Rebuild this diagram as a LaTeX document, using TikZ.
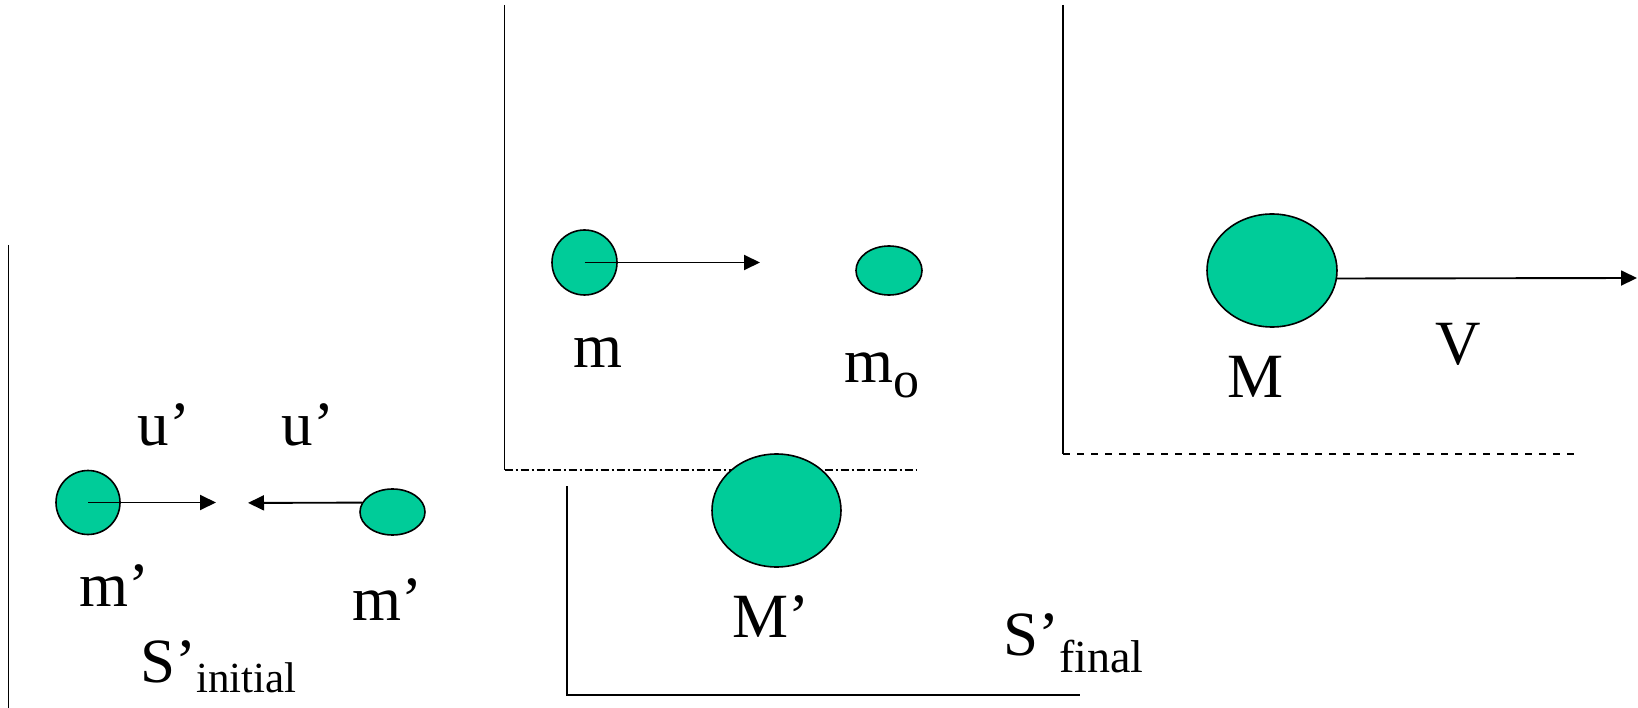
\documentclass[tikz,border=0pt]{standalone}
\usepackage{fontspec}
\setmainfont{Liberation Serif}
\usetikzlibrary{shapes.geometric,arrows.meta}
\definecolor{ball}{RGB}{0,204,153}
\tikzset{
  ballnode/.style={ellipse,draw=black,fill=ball,line width=1.6pt,inner sep=0pt},
  frame/.style={line width=1.8pt,draw=black},
  arr/.style={line width=1.9pt,-{Triangle[length=16pt,width=15pt]}},
  lbl/.style={anchor=base,inner sep=0pt,font=\fontsize{63}{63}\selectfont},
}
\begin{document}
\begin{tikzpicture}[x=1pt,y=-1pt]
\useasboundingbox (0,0) rectangle (1638,708);
% frames
\coordinate (f1a) at (8.5,245);
\coordinate (f1b) at (8.5,708);
\draw[frame] (f1a) -- (f1b);
\coordinate (f2a) at (504.5,5);
\coordinate (f2b) at (504.5,470);
\coordinate (f2c) at (916,470);
\draw[frame] (f2a) -- (f2b);
\draw[frame,dash pattern=on 8pt off 3pt on 2pt off 3pt] (f2b) -- (f2c);
\coordinate (f3a) at (567,486);
\coordinate (f3b) at (567,695);
\coordinate (f3c) at (1080,695);
\draw[frame] (f3a) -- (f3b) -- (f3c);
\coordinate (f4a) at (1063,5);
\coordinate (f4b) at (1063,454);
\coordinate (f4c) at (1575,454);
\draw[frame] (f4a) -- (f4b);
\draw[frame,dash pattern=on 7pt off 7pt] (f4b) -- (f4c);
% balls
\node[ballnode,minimum width=64pt,minimum height=64pt] (mp1) at (88,502.5) {};
\node[ballnode,minimum width=65pt,minimum height=46pt] (mp2) at (392.5,512) {};
\node[ballnode,minimum width=65pt,minimum height=65pt] (m) at (584.5,262.5) {};
\node[ballnode,minimum width=66pt,minimum height=49pt] (mo) at (889,270.5) {};
\node[ballnode,minimum width=129pt,minimum height=113pt] (Mp) at (776.5,510.5) {};
\node[ballnode,minimum width=130pt,minimum height=113pt] (M) at (1272,270.5) {};
% arrows
\coordinate (t1) at (216,502.5);
\draw[arr] (mp1.center) -- (t1);
\coordinate (t2) at (248,502.9);
\draw[arr] (mp2.163) -- (t2);
\coordinate (t3) at (760,262.5);
\draw[arr] (m.center) -- (t3);
\coordinate (t4) at (1637,278);
\draw[arr] (M.-7) -- (t4);
% labels
\node[lbl] (lu1) at (164,445) {u’};
\node[lbl] (lu2) at (308,445) {u’};
\node[lbl] (lmp1) at (114,606) {m’};
\node[lbl] (lmp2) at (387,620) {m’};
\node[lbl,anchor=base west] (lsi) at (140,682) {S’\raisebox{-10pt}{\fontsize{43}{43}\selectfont initial}};
\node[lbl] (lm) at (597.5,367) {m};
\node[lbl,anchor=base west] (lmo) at (844,382) {m\raisebox{-15pt}{\fontsize{52}{52}\selectfont o}};
\node[lbl] (lMp) at (771,637) {M’};
\node[lbl,anchor=base west] (lsf) at (1003,655) {S’\raisebox{-17pt}{\fontsize{46}{46}\selectfont final}};
\node[lbl] (lM) at (1255,397) {M};
\node[lbl] (lV) at (1458,365) {V};
\end{tikzpicture}
\end{document}
